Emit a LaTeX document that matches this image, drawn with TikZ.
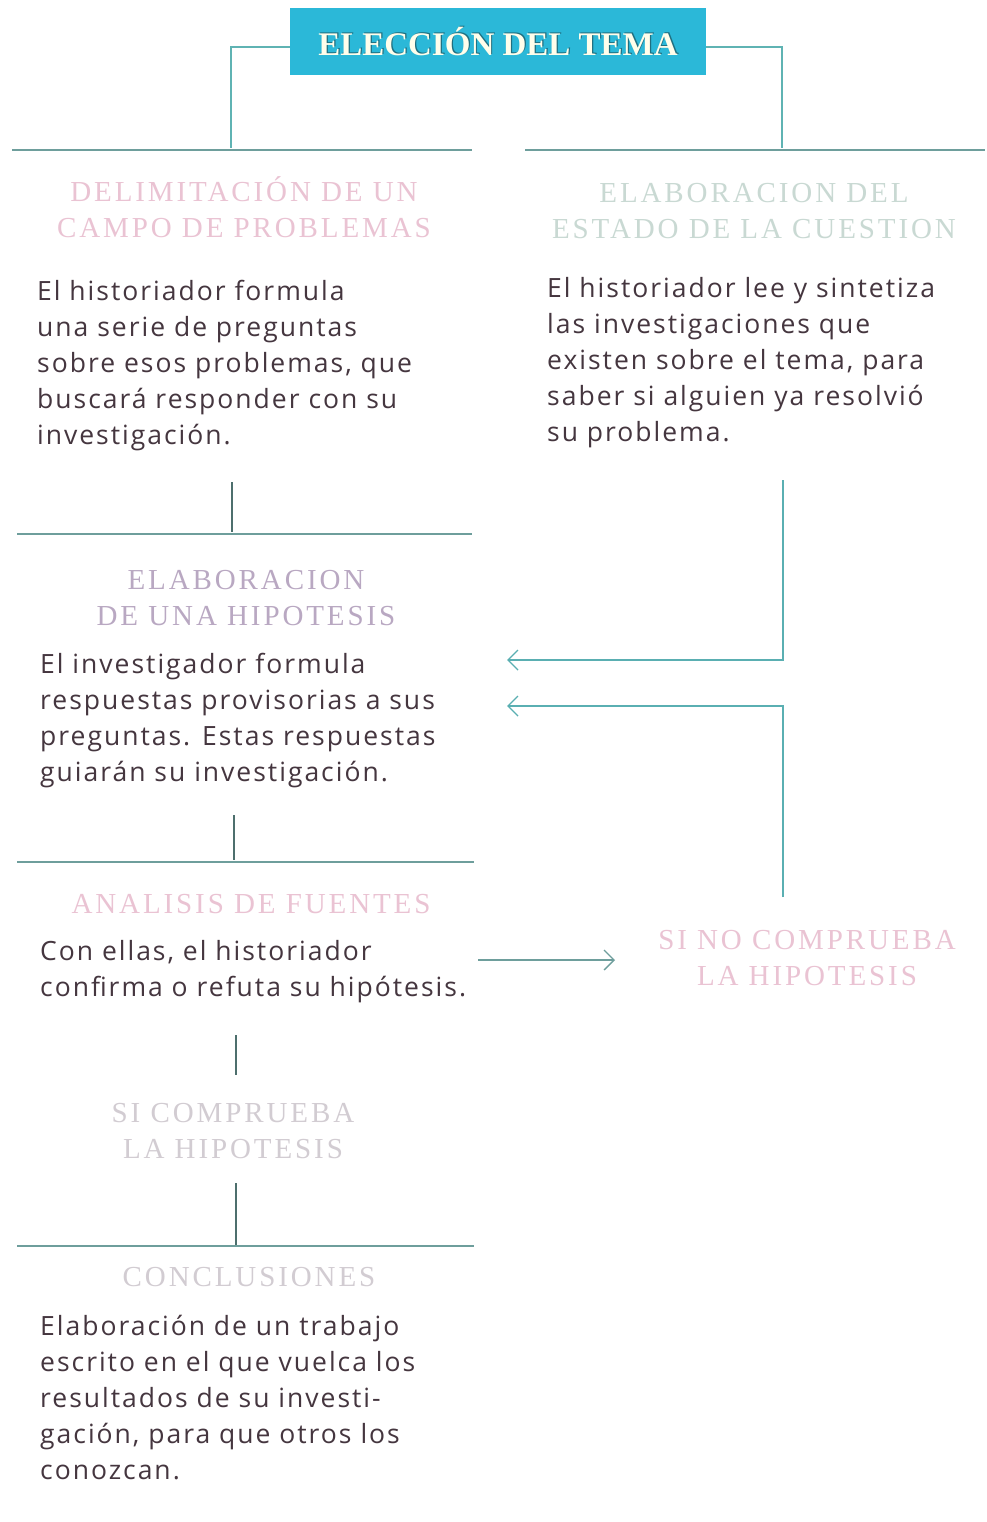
\documentclass[tikz,border=0pt]{standalone}
\usepackage{fontspec}
\setmainfont{Liberation Serif}
\newfontfamily\bodyfont{Open Sans}[LetterSpace=7.5]
\newfontfamily\headfont{Liberation Serif}[LetterSpace=10]
\usetikzlibrary{arrows.meta}
\definecolor{cyanbox}{HTML}{2BB8D8}
\definecolor{tealline}{HTML}{5FB3B3}
\definecolor{rulecol}{HTML}{6E9E9C}
\definecolor{bodycol}{HTML}{45363F}
\definecolor{headpink}{HTML}{EAC3D3}
\definecolor{headgreen}{HTML}{C9D9D3}
\definecolor{headpurple}{HTML}{B9A8C2}
\definecolor{headgrey}{HTML}{D2CCD2}
\definecolor{arrowcol}{HTML}{5AAFB2}
\definecolor{titleshade}{HTML}{1F6F80}
\tikzset{
  bodytext/.style={anchor=north west, inner sep=0pt, align=left, text=bodycol,
    font=\bodyfont\fontsize{26.5}{36}\selectfont},
  headtext/.style={anchor=north, inner sep=0pt, align=center,
    font=\headfont\fontsize{29}{36}\selectfont},
  rulestyle/.style={draw=rulecol, line width=1.4pt},
  linkstyle/.style={draw=tealline, line width=1.2pt},
  vstyle/.style={draw=rulecol!70!black, line width=1.2pt},
  arrowstyle/.style={draw=arrowcol, line width=1.4pt, -{Straight Barb[length=10pt,width=20pt]}},
}
\begin{document}
\begin{tikzpicture}[x=1pt,y=-1pt]
\useasboundingbox (0,0) rectangle (986,1522);
\fill[white] (0,0) rectangle (986,1522);

% title
\node[fill=cyanbox, minimum width=416pt, minimum height=67pt, inner sep=0pt] (title) at (498,41.5) {};
\node[text=titleshade, font=\bfseries\fontsize{33}{36}\selectfont, inner sep=0pt] (titleshadow) at ([xshift=1.2pt,yshift=1.2pt]title.center) {ELECCIÓN DEL TEMA};
\node[text=white!92!yellow, font=\bfseries\fontsize{33}{36}\selectfont, inner sep=0pt] (titletext) at (title.center) {ELECCIÓN DEL TEMA};

\coordinate (tl) at (231,148);
\coordinate (tr) at (782,148);
\draw[linkstyle] (title.west |- 0,47) -| (tl);
\draw[linkstyle] (title.east |- 0,47) -| (tr);

% top rules
\coordinate (r1a) at (12,150); \coordinate (r1b) at (472,150);
\coordinate (r2a) at (525,150); \coordinate (r2b) at (985,150);
\draw[rulestyle] (r1a) -- (r1b);
\draw[rulestyle] (r2a) -- (r2b);

% headings
\node[headtext, text=headpink] (h1) at (244,176) {DELIMITACIÓN DE UN\\CAMPO DE PROBLEMAS};
\node[headtext, text=headgreen] (h2) at (754,183) {ELABORACION DEL\\ESTADO DE LA CUESTION};

\node[bodytext] (b1) at (37,280) {El historiador formula\\una serie de preguntas\\sobre esos problemas, que\\buscará responder con su\\investigación.};
\node[bodytext] (b2) at (547,277) {El historiador lee y sintetiza\\las investigaciones que\\existen sobre el tema, para\\saber si alguien ya resolvió\\su problema.};

% vertical link to hypothesis
\coordinate (v1a) at (232,482); \coordinate (v1b) at (232,532);
\draw[vstyle] (v1a) -- (v1b);
\coordinate (r3a) at (17,534); \coordinate (r3b) at (472,534);
\draw[rulestyle] (r3a) -- (r3b);

\node[headtext, text=headpurple] (h3) at (246,570) {ELABORACION\\DE UNA HIPOTESIS};
\node[bodytext] (b3) at (40,653) {El investigador formula\\respuestas provisorias a sus\\preguntas. Estas respuestas\\guiarán su investigación.};

% feedback arrows
\coordinate (fa) at (783,480);
\coordinate (fb) at (507,660);
\draw[arrowstyle] (fa) |- (fb);

\node[headtext, text=headpink] (h5) at (807,930) {SI NO COMPRUEBA\\LA HIPOTESIS};
\coordinate (fd) at (783,897);
\coordinate (fc) at (507,706);
\draw[arrowstyle] (fd) |- (fc);

% to analysis
\coordinate (v2a) at (234,815); \coordinate (v2b) at (234,860);
\draw[vstyle] (v2a) -- (v2b);
\coordinate (r4a) at (17,862); \coordinate (r4b) at (474,862);
\draw[rulestyle] (r4a) -- (r4b);

\node[headtext, text=headpink] (h4) at (251,894) {ANALISIS DE FUENTES};
\node[bodytext] (b4) at (40,940) {Con ellas, el historiador\\confirma o refuta su hipótesis.};

\coordinate (aa) at (478,960);
\coordinate (ab) at (615,960);
\draw[draw=rulecol, line width=1.3pt, -{Straight Barb[length=10pt,width=20pt]}] (aa) -- (ab);

\coordinate (v3a) at (236,1035); \coordinate (v3b) at (236,1075);
\draw[vstyle] (v3a) -- (v3b);
\node[headtext, text=headgrey] (h6) at (233,1103) {SI COMPRUEBA\\LA HIPOTESIS};
\coordinate (v4a) at (236,1183); \coordinate (v4b) at (236,1245);
\draw[vstyle] (v4a) -- (v4b);
\coordinate (r5a) at (17,1246); \coordinate (r5b) at (474,1246);
\draw[rulestyle] (r5a) -- (r5b);

\node[headtext, text=headgrey] (h7) at (249,1267) {CONCLUSIONES};
\node[bodytext] (b5) at (40,1315) {Elaboración de un trabajo\\escrito en el que vuelca los\\resultados de su investi-\\gación, para que otros los\\conozcan.};
\end{tikzpicture}
\end{document}
